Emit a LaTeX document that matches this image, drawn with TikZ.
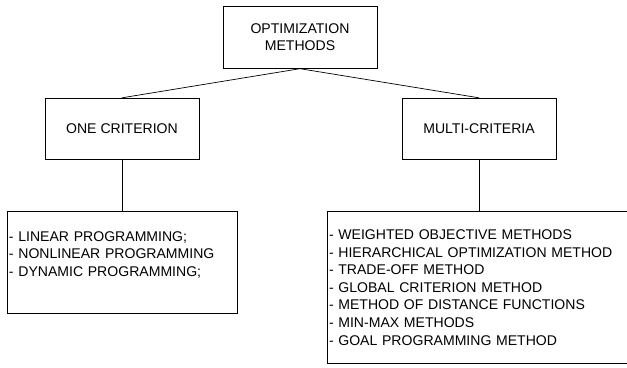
\documentclass[tikz,border=0pt]{standalone}
\usepackage{fontspec}
\setmainfont{Liberation Sans}
\usetikzlibrary{positioning}

\begin{document}
\begin{tikzpicture}[
    x=0.03cm, y=-0.03cm,
    node distance=1.53cm,
    box/.style={rectangle, draw, line width=0.6pt, minimum width=4.62cm,
                minimum height=1.85cm, inner sep=2pt, align=center,
                font=\fontsize{12}{14.5}\selectfont},
    listbox/.style={rectangle, draw, line width=0.6pt, inner xsep=0.06cm,
                    align=left, font=\fontsize{12}{15}\selectfont},
    link/.style={line width=0.6pt},
]
\useasboundingbox (0,0) rectangle (627,367);

% --- root ---
\node[box] (root) at (300,37.5) {OPTIMIZATION\\METHODS};

% --- the two branches ---
\node[box] (one)   at (122,129) {ONE CRITERION};
\node[box] (multi) at (479,129) {MULTI-CRITERIA};

\draw[link] (root.south) -- (one.north);
\draw[link] (root.south) -- (multi.north);

% --- method lists under each branch ---
\node[listbox, minimum height=3.06cm, text width=6.78cm, below=of one] (onelist)
    {- LINEAR PROGRAMMING;\\- NONLINEAR PROGRAMMING\\- DYNAMIC PROGRAMMING;\\ \mbox{}};
\node[listbox, minimum height=4.56cm, text width=9.0cm, below=of multi] (multilist)
    {- WEIGHTED OBJECTIVE METHODS\\- HIERARCHICAL OPTIMIZATION METHOD\\- TRADE-OFF METHOD\\
     - GLOBAL CRITERION METHOD\\- METHOD OF DISTANCE FUNCTIONS\\- MIN-MAX METHODS\\
     - GOAL PROGRAMMING METHOD};

\draw[link] (one.south)   -- (onelist.north);
\draw[link] (multi.south) -- (multilist.north);

\end{tikzpicture}
\end{document}
